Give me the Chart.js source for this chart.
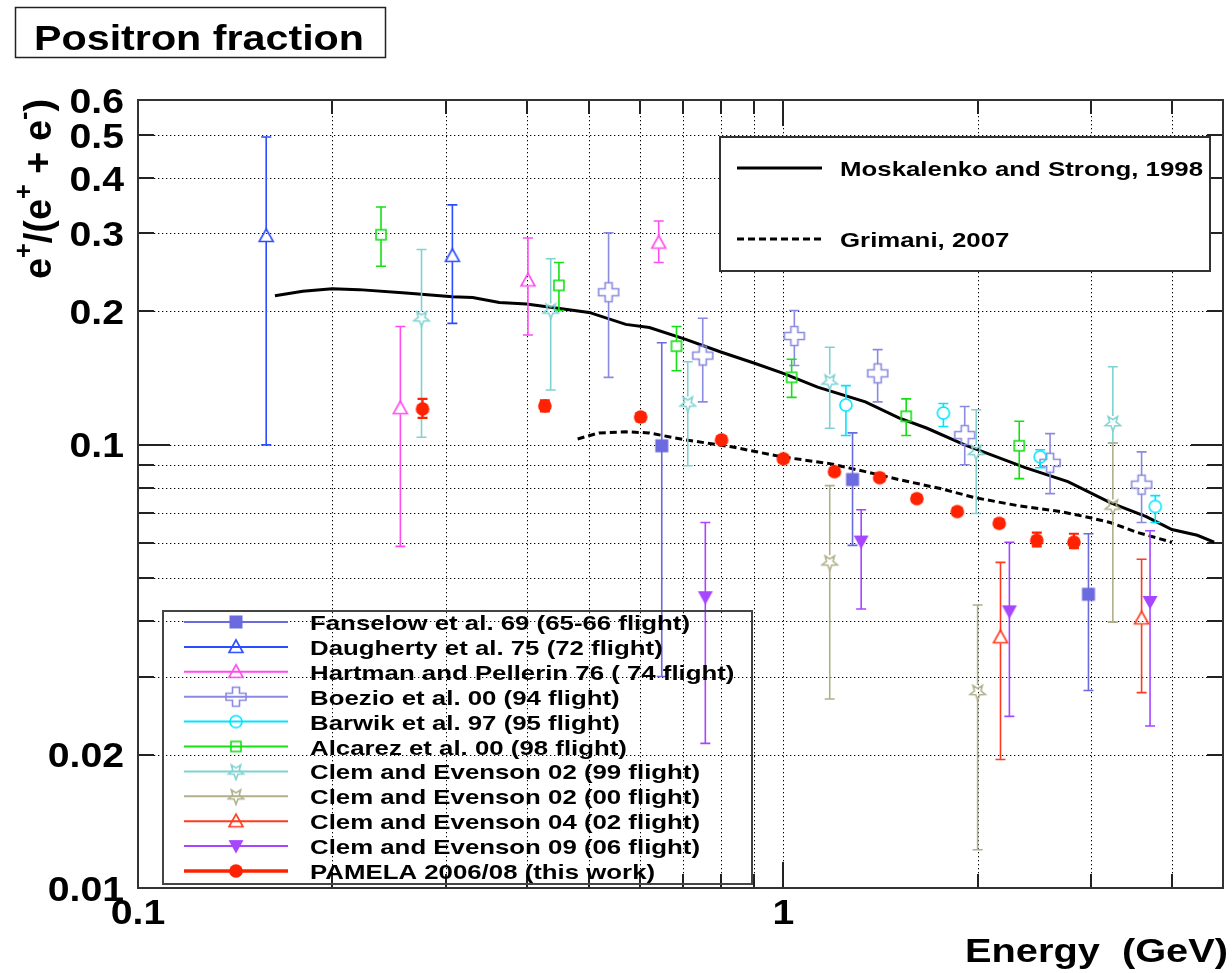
<!DOCTYPE html>
<html>
<head>
<meta charset="utf-8">
<title>Positron fraction</title>
<script src="https://cdn.jsdelivr.net/npm/chart.js@4.4.0/dist/chart.umd.min.js"></script>
<style>
  html, body { margin: 0; padding: 0; background: #fff; }
  canvas { display: block; }
</style>
</head>
<body>
<canvas id="positronChart" width="1232" height="973"></canvas>
<script>
// e+/(e+ + e-) measurements, one row per point: [energy GeV, value, lower, upper]
const fanselow = [[0.648, 0.0995, 0.030, 0.170], [1.28, 0.0835, 0.0593, 0.1064], [2.97, 0.046, 0.0279, 0.063]];
const daugherty = [[0.158, 0.296, 0.100, 0.495], [0.307, 0.267, 0.188, 0.348]];
const hartman = [[0.255, 0.121, 0.059, 0.185], [0.402, 0.235, 0.177, 0.293], [0.641, 0.286, 0.258, 0.320]];
const boezio = [[0.536, 0.221, 0.142, 0.301], [0.750, 0.159, 0.125, 0.193], [1.04, 0.176, 0.151, 0.201],
  [1.40, 0.145, 0.125, 0.164], [1.91, 0.1052, 0.0902, 0.122], [2.59, 0.0911, 0.0776, 0.106], [3.59, 0.0813, 0.0668, 0.0964]];
const barwik = [[1.25, 0.123, 0.105, 0.136], [1.77, 0.118, 0.110, 0.124], [2.50, 0.094, 0.0888, 0.0975], [3.77, 0.0726, 0.0668, 0.0768]];
const alcarez = [[0.238, 0.298, 0.253, 0.344], [0.449, 0.229, 0.201, 0.258], [0.683, 0.167, 0.147, 0.185],
  [1.03, 0.142, 0.128, 0.156], [1.55, 0.116, 0.105, 0.127], [2.32, 0.0995, 0.0839, 0.113]];
const clem99 = [[0.275, 0.193, 0.104, 0.276], [0.436, 0.201, 0.133, 0.263], [0.711, 0.124, 0.0897, 0.154],
  [1.18, 0.139, 0.109, 0.166], [1.99, 0.0964, 0.070, 0.120], [3.24, 0.112, 0.101, 0.150]];
const clem00 = [[1.18, 0.0543, 0.0267, 0.0809], [2.00, 0.0277, 0.0122, 0.0435], [3.24, 0.0726, 0.0398, 0.101]];
const clem02 = [[2.17, 0.0368, 0.0195, 0.0543], [3.59, 0.0406, 0.0276, 0.0552]];
const clem06 = [[0.757, 0.0453, 0.0212, 0.0668], [1.32, 0.0605, 0.0426, 0.0714], [2.24, 0.0421, 0.0244, 0.0603], [3.70, 0.0442, 0.0232, 0.064]];
const pamela = [[0.276, 0.1205, 0.115, 0.127], [0.427, 0.1224, 0.119, 0.126], [0.601, 0.1156, 0.113, 0.118],
  [0.802, 0.1026, 0.101, 0.1045], [1.00, 0.093, 0.0915, 0.0945], [1.20, 0.087, 0.0855, 0.0885],
  [1.41, 0.0843, 0.083, 0.086], [1.61, 0.0756, 0.0745, 0.077], [1.86, 0.0707, 0.0695, 0.072],
  [2.16, 0.0665, 0.0652, 0.0678], [2.47, 0.0609, 0.059, 0.0634], [2.82, 0.0603, 0.0585, 0.0630]];

// model curves
const mosE = [0.163, 0.18, 0.2, 0.22, 0.26, 0.307, 0.33, 0.363, 0.4, 0.5, 0.57, 0.62, 0.706, 0.8, 0.9, 1.0,
  1.13, 1.34, 1.51, 1.67, 1.91, 2.37, 2.76, 3.21, 3.65, 4.0, 4.38, 4.65];
const mosV = [0.217, 0.222, 0.225, 0.224, 0.220, 0.216, 0.215, 0.2096, 0.208, 0.199, 0.187, 0.184, 0.173, 0.162, 0.153, 0.145,
  0.135, 0.125, 0.115, 0.109, 0.100, 0.0888, 0.0826, 0.0741, 0.0689, 0.0644, 0.0625, 0.0603];
const grimE = [0.480, 0.518, 0.570, 0.619, 0.706, 0.831, 0.993, 1.18, 1.34, 1.51, 1.75, 1.98, 2.31, 2.69, 2.93, 3.21, 3.54, 4.0];
const grimV = [0.1031, 0.1064, 0.107, 0.1064, 0.1026, 0.099, 0.094, 0.0907, 0.087, 0.0835, 0.0797, 0.0760, 0.0729, 0.0707, 0.0689, 0.0668, 0.0634, 0.0603];

// axis ticks
const xGrid = [0.2, 0.3, 0.4, 0.5, 0.6, 0.7, 0.8, 0.9, 1, 2, 3, 4];
const yGrid = [0.02, 0.03, 0.04, 0.05, 0.06, 0.07, 0.08, 0.09, 0.1, 0.2, 0.3, 0.4, 0.5];
const xLabels = [0.1, 1];
const yLabels = [0.01, 0.02, 0.1, 0.2, 0.3, 0.4, 0.5, 0.6];

const FONT = "'Liberation Sans', Arial, Helvetica, sans-serif";

const series = [
  { label: 'Fanselow et al. 69 (65-66 flight)', rows: fanselow, color: '#6b6bdf', marker: 'square' },
  { label: 'Daugherty et al. 75 (72 flight)', rows: daugherty, color: '#2b4cff', marker: 'openTriangle' },
  { label: 'Hartman and Pellerin 76 ( 74 flight)', rows: hartman, color: '#ff4cf0', marker: 'openTriangle' },
  { label: 'Boezio et al. 00 (94 flight)', rows: boezio, color: '#8a8ae0', marker: 'openCross' },
  { label: 'Barwik et al. 97 (95 flight)', rows: barwik, color: '#00e4ff', marker: 'openCircle' },
  { label: 'Alcarez et al. 00 (98 flight)', rows: alcarez, color: '#14e014', marker: 'openSquare' },
  { label: 'Clem and Evenson 02 (99 flight)', rows: clem99, color: '#80d2d2', marker: 'openStar' },
  { label: 'Clem and Evenson 02 (00 flight)', rows: clem00, color: '#b0b08c', marker: 'openStar' },
  { label: 'Clem and Evenson 04 (02 flight)', rows: clem02, color: '#ff3a1e', marker: 'openTriangle' },
  { label: 'Clem and Evenson 09 (06 flight)', rows: clem06, color: '#a646ff', marker: 'downTriangle' },
  { label: 'PAMELA 2006/08 (this work)', rows: pamela, color: '#ff2200', marker: 'circle', thick: true }
];

const gaps = { square: 0, openTriangle: 6, openCross: 9, openCircle: 6, openSquare: 5, openStar: 7, downTriangle: 0, circle: 0 };

// small canvases used as point styles
function makeMarker(kind, color) {
  const c = document.createElement('canvas');
  c.width = 26; c.height = 26;
  const g = c.getContext('2d');
  g.translate(13, 13);
  g.strokeStyle = color; g.fillStyle = color; g.lineWidth = 1.6;
  g.beginPath();
  if (kind === 'square') {
    g.fillRect(-6.5, -6.5, 13, 13);
  } else if (kind === 'openSquare') {
    g.strokeRect(-5, -5, 10, 10);
  } else if (kind === 'openTriangle') {
    g.moveTo(0, -7); g.lineTo(7, 5.5); g.lineTo(-7, 5.5); g.closePath(); g.stroke();
  } else if (kind === 'downTriangle') {
    g.moveTo(-7.5, -6); g.lineTo(7.5, -6); g.lineTo(0, 7.5); g.closePath(); g.fill();
  } else if (kind === 'openCircle') {
    g.arc(0, 0, 6, 0, Math.PI * 2); g.stroke();
  } else if (kind === 'circle') {
    g.arc(0, 0, 6.8, 0, Math.PI * 2); g.fill();
  } else if (kind === 'openCross') {
    const a = 3.5, bx = 10, by = 9.5;
    const pts = [[-a, -by], [a, -by], [a, -a], [bx, -a], [bx, a], [a, a], [a, by], [-a, by], [-a, a], [-bx, a], [-bx, -a], [-a, -a]];
    pts.forEach(([x, y], i) => i ? g.lineTo(x, y) : g.moveTo(x, y));
    g.closePath(); g.stroke();
  } else if (kind === 'openStar') {
    for (let k = 0; k < 10; k++) {
      const r = k % 2 ? 3.4 : 8;
      const ang = Math.PI / 2 + k * Math.PI / 5;
      const x = r * Math.cos(ang), y = r * Math.sin(ang);
      k ? g.lineTo(x, y) : g.moveTo(x, y);
    }
    g.closePath(); g.stroke();
  }
  return c;
}

series.forEach(s => { s.icon = makeMarker(s.marker, s.color); });

function curve(label, xs, ys, dash) {
  return {
    label, type: 'line', data: xs.map((x, i) => ({ x, y: ys[i] })),
    borderColor: '#000', borderWidth: 3, borderDash: dash, pointRadius: 0, tension: 0, fill: false
  };
}

const pointSets = series.map(s => ({
  label: s.label,
  data: s.rows.map(([x, y, lo, hi]) => ({ x, y, lo, hi })),
  showLine: false,
  borderColor: s.color,
  backgroundColor: s.color,
  pointStyle: s.icon,
  pointRadius: 8,
  errorWidth: s.thick ? 2.2 : 1.6,
  errorGap: gaps[s.marker]
}));

// drawn in reverse, so PAMELA goes last
const datasets = [pointSets[10], ...pointSets.slice(0, 10).reverse(),
  curve('Moskalenko and Strong, 1998', mosE, mosV, []),
  curve('Grimani, 2007', grimE, grimV, [7, 4])];

function stretchText(ctx, str, x, y, size, sx, align) {
  ctx.save();
  ctx.font = 'bold ' + size + 'px ' + FONT;
  ctx.textAlign = 'left';
  ctx.textBaseline = 'alphabetic';
  const w = ctx.measureText(str).width * sx;
  const x0 = align === 'right' ? x - w : align === 'center' ? x - w / 2 : x;
  ctx.translate(x0, y);
  ctx.scale(sx, 1);
  ctx.fillText(str, 0, 0);
  ctx.restore();
}

function fitScale(ctx, str, size, width) {
  ctx.save();
  ctx.font = 'bold ' + size + 'px ' + FONT;
  const w = ctx.measureText(str).width;
  ctx.restore();
  return width / w;
}

const background = {
  id: 'background',
  beforeDraw(chart) {
    const { ctx, width, height } = chart;
    ctx.save();
    ctx.fillStyle = '#fff';
    ctx.fillRect(0, 0, width, height);
    ctx.restore();
  }
};

// dotted grid, inward ticks and frame
const frame = {
  id: 'frame',
  beforeDatasetsDraw(chart) {
    const { ctx, chartArea: a, scales: { x, y } } = chart;
    ctx.save();
    ctx.strokeStyle = '#000';
    ctx.lineWidth = 1;
    ctx.setLineDash([1.3, 2.7]);
    ctx.beginPath();
    xGrid.forEach(v => {
      const p = Math.round(x.getPixelForValue(v)) + 0.5;
      ctx.moveTo(p, a.top); ctx.lineTo(p, a.bottom);
    });
    yGrid.forEach(v => {
      const p = Math.round(y.getPixelForValue(v)) + 0.5;
      ctx.moveTo(a.left, p); ctx.lineTo(a.right, p);
    });
    ctx.stroke();
    ctx.setLineDash([]);

    ctx.strokeStyle = '#222';
    ctx.lineWidth = 2;
    ctx.beginPath();
    yGrid.concat([0.6]).forEach(v => {
      const p = Math.round(y.getPixelForValue(v));
      const len = v === 0.1 ? 32 : 16;
      ctx.moveTo(a.left, p); ctx.lineTo(a.left + len, p);
      ctx.moveTo(a.right, p); ctx.lineTo(a.right - len, p);
    });
    xGrid.forEach(v => {
      const p = Math.round(x.getPixelForValue(v));
      const len = v === 1 ? 26 : 14;
      ctx.moveTo(p, a.bottom); ctx.lineTo(p, a.bottom - len);
      ctx.moveTo(p, a.top); ctx.lineTo(p, a.top + len);
    });
    ctx.stroke();

    ctx.strokeStyle = '#333';
    ctx.strokeRect(a.left, a.top, a.right - a.left, a.bottom - a.top);
    ctx.restore();
  }
};

// vertical error bars with end caps, drawn under each dataset's markers
const errorBars = {
  id: 'errorBars',
  beforeDatasetDraw(chart, args) {
    const ds = chart.data.datasets[args.index];
    if (ds.errorGap === undefined) return;
    const { ctx, chartArea: a } = chart;
    const y = chart.scales.y;
    ctx.save();
    ctx.beginPath();
    ctx.rect(a.left, a.top, a.right - a.left, a.bottom - a.top);
    ctx.clip();
    ctx.strokeStyle = ds.borderColor;
    ctx.lineWidth = ds.errorWidth;
    ctx.beginPath();
    args.meta.data.forEach((pt, i) => {
      const d = ds.data[i];
      const yHi = y.getPixelForValue(d.hi);
      const yLo = y.getPixelForValue(d.lo);
      const g = ds.errorGap;
      if (yHi < pt.y - g) { ctx.moveTo(pt.x, yHi); ctx.lineTo(pt.x, pt.y - g); }
      if (yLo > pt.y + g) { ctx.moveTo(pt.x, pt.y + g); ctx.lineTo(pt.x, yLo); }
      ctx.moveTo(pt.x - 5, yHi); ctx.lineTo(pt.x + 5, yHi);
      ctx.moveTo(pt.x - 5, yLo); ctx.lineTo(pt.x + 5, yLo);
    });
    ctx.stroke();
    ctx.restore();
  }
};

// titles, tick labels and both legend boxes
const annotations = {
  id: 'annotations',
  afterDatasetsDraw(chart) {
    const { ctx, chartArea: a, scales: { x, y } } = chart;
    ctx.save();
    ctx.fillStyle = '#000';

    // tick labels
    yLabels.forEach(v => {
      stretchText(ctx, String(v), a.left - 14, y.getPixelForValue(v) + 12.5, 35, 1.12, 'right');
    });
    xLabels.forEach(v => {
      stretchText(ctx, String(v), x.getPixelForValue(v), a.bottom + 36, 35, 1.12, 'center');
    });

    // axis titles
    const xt = 'Energy  (GeV)';
    stretchText(ctx, xt, 1228, 962, 33, fitScale(ctx, xt, 33, 263), 'right');

    const parts = [['e', 0], ['+', 1], ['/(e', 0], ['+', 1], [' + e', 0], ['-', 1], [')', 0]];
    const big = 36, small = 24;
    let total = 0;
    parts.forEach(([t, sup]) => {
      ctx.font = 'bold ' + (sup ? small : big) + 'px ' + FONT;
      total += ctx.measureText(t).width;
    });
    ctx.save();
    ctx.translate(51, 279);
    ctx.rotate(-Math.PI / 2);
    ctx.scale(180 / total, 1.1);
    let pos = 0;
    parts.forEach(([t, sup]) => {
      ctx.font = 'bold ' + (sup ? small : big) + 'px ' + FONT;
      ctx.fillText(t, pos, sup ? -17 : 0);
      pos += ctx.measureText(t).width;
    });
    ctx.restore();

    // title box
    ctx.strokeStyle = '#222';
    ctx.lineWidth = 1.5;
    ctx.strokeRect(15.5, 7.5, 370, 50);
    const tt = 'Positron fraction';
    stretchText(ctx, tt, 34, 50, 35, fitScale(ctx, tt, 35, 330), 'left');

    // model legend
    ctx.fillStyle = '#fff';
    ctx.fillRect(720, 137, 490, 134);
    ctx.strokeStyle = '#333';
    ctx.lineWidth = 2;
    ctx.strokeRect(720, 137, 490, 134);
    ctx.strokeStyle = '#000';
    ctx.lineWidth = 3;
    ctx.beginPath(); ctx.moveTo(737, 168); ctx.lineTo(822, 168); ctx.stroke();
    ctx.setLineDash([7, 4]);
    ctx.beginPath(); ctx.moveTo(737, 239); ctx.lineTo(822, 239); ctx.stroke();
    ctx.setLineDash([]);
    ctx.fillStyle = '#000';
    const m1 = 'Moskalenko and Strong, 1998';
    const legScale = fitScale(ctx, m1, 21, 363);
    stretchText(ctx, m1, 840, 176, 21, legScale, 'left');
    stretchText(ctx, 'Grimani, 2007', 840, 247, 21, legScale, 'left');

    // data legend, see-through
    ctx.strokeStyle = '#444';
    ctx.lineWidth = 2;
    ctx.strokeRect(163, 611, 589, 273);
    const dataScale = fitScale(ctx, series[0].label, 21, 380);
    series.forEach((s, i) => {
      const ly = 622 + i * 24.9;
      ctx.strokeStyle = s.color;
      ctx.lineWidth = s.thick ? 3.5 : 2;
      ctx.beginPath(); ctx.moveTo(184, ly); ctx.lineTo(288, ly); ctx.stroke();
      ctx.drawImage(s.icon, 236 - 13, ly - 13);
      ctx.fillStyle = '#000';
      stretchText(ctx, s.label, 310, ly + 8, 21, dataScale, 'left');
    });
    ctx.restore();
  }
};

const ctx = document.getElementById('positronChart').getContext('2d');
const positronChart = new Chart(ctx, {
  type: 'scatter',
  data: { datasets },
  options: {
    responsive: false,
    animation: false,
    layout: { padding: { top: 100, right: 5, left: 0, bottom: 0 } },
    plugins: {
      legend: { display: false },
      tooltip: { enabled: false }
    },
    scales: {
      x: {
        type: 'logarithmic', min: 0.1, max: 4.8,
        grid: { display: false }, border: { display: false }, ticks: { display: false },
        afterFit(scale) { scale.height = 85; }
      },
      y: {
        type: 'logarithmic', min: 0.01, max: 0.6,
        grid: { display: false }, border: { display: false }, ticks: { display: false },
        afterFit(scale) { scale.width = 138; }
      }
    }
  },
  plugins: [background, frame, errorBars, annotations]
});
</script>
</body>
</html>
